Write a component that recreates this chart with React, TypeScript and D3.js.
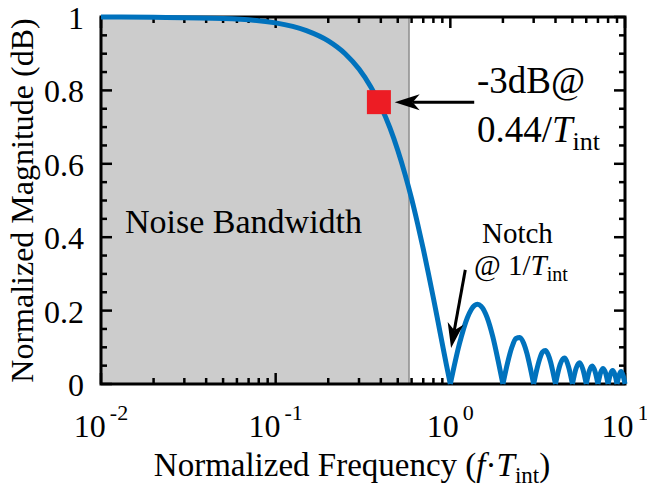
import React, { useEffect, useRef } from 'react';
import * as d3 from 'd3';

// normalized frequency (f*T_int) and normalized magnitude
const freq = [
  0.01, 0.02, 0.05, 0.1, 0.15, 0.2, 0.25, 0.3, 0.35, 0.4, 0.45, 0.5, 0.55, 0.6, 0.65, 0.7, 0.75, 0.8, 0.85, 0.9, 0.95, 1,
  1.125, 1.25, 1.375, 1.43, 1.5, 1.625, 1.75, 1.875, 2,
  2.125, 2.25, 2.375, 2.5, 2.625, 2.75, 2.875, 3,
  3.125, 3.25, 3.375, 3.5, 3.625, 3.75, 3.875, 4,
  4.25, 4.5, 4.75, 5,
  5.25, 5.5, 5.75, 6,
  6.25, 6.5, 6.75, 7,
  7.25, 7.5, 7.75, 8,
  8.25, 8.5, 8.75, 9,
  9.25, 9.5, 9.75, 10,
];
const magnitude = [
  1.0, 0.999, 0.996, 0.984, 0.963, 0.935, 0.9, 0.858, 0.81, 0.757, 0.699, 0.637, 0.572, 0.505, 0.436, 0.368, 0.3, 0.234, 0.17, 0.109, 0.052, 0,
  0.108, 0.18, 0.214, 0.217, 0.212, 0.181, 0.129, 0.065, 0,
  0.057, 0.1, 0.124, 0.127, 0.112, 0.082, 0.042, 0,
  0.039, 0.069, 0.087, 0.091, 0.081, 0.06, 0.031, 0,
  0.053, 0.071, 0.047, 0,
  0.043, 0.058, 0.039, 0,
  0.036, 0.049, 0.033, 0,
  0.031, 0.042, 0.029, 0,
  0.027, 0.037, 0.026, 0,
  0.024, 0.034, 0.023, 0,
];

const noiseBandEdge = 0.58;
const marker = [0.39, 0.768];

const xMajorTicks = [0.01, 0.1, 1, 10];
const xTickExponents = ['-2', '-1', '0', '1'];
const yMajorTicks = [0, 0.2, 0.4, 0.6, 0.8, 1];
const yTickLabels = ['0', '0.2', '0.4', '0.6', '0.8', '1'];

const FONT = '"Liberation Serif", "Times New Roman", serif';

const App = () => {
  const ref = useRef<SVGSVGElement>(null);

  useEffect(() => {
    const svg = d3.select(ref.current);
    svg.selectAll('*').remove();

    const x = d3.scaleLog().domain([0.01, 10]).range([101, 625]);
    const y = d3.scaleLinear().domain([0, 1]).range([384, 17]);
    const [left, right] = x.range();
    const [bottom, top] = y.range();

    // shaded noise bandwidth
    svg.append('rect')
      .attr('x', left).attr('y', top)
      .attr('width', x(noiseBandEdge) - left)
      .attr('height', bottom - top)
      .attr('fill', '#cccccc');
    svg.append('line')
      .attr('x1', x(noiseBandEdge)).attr('x2', x(noiseBandEdge))
      .attr('y1', top).attr('y2', bottom)
      .attr('stroke', '#8c8c8c').attr('stroke-width', 1.5);

    // ticks (inside, all four sides)
    const ticks = svg.append('g').attr('stroke', '#000').attr('stroke-width', 2.5);
    x.ticks().forEach(t => {
      const lg = Math.log10(t);
      const len = Math.abs(lg - Math.round(lg)) < 1e-9 ? 11 : 6;
      ticks.append('line').attr('x1', x(t)).attr('x2', x(t)).attr('y1', bottom).attr('y2', bottom - len);
      ticks.append('line').attr('x1', x(t)).attr('x2', x(t)).attr('y1', top).attr('y2', top + len);
    });
    d3.range(0, 21).forEach(i => {
      const v = i * 0.05;
      const len = i % 4 === 0 ? 11 : 6;
      ticks.append('line').attr('x1', left).attr('x2', left + len).attr('y1', y(v)).attr('y2', y(v));
      ticks.append('line').attr('x1', right).attr('x2', right - len).attr('y1', y(v)).attr('y2', y(v));
    });

    svg.append('rect')
      .attr('x', left).attr('y', top)
      .attr('width', right - left).attr('height', bottom - top)
      .attr('fill', 'none').attr('stroke', '#000').attr('stroke-width', 3);

    // tick labels
    yMajorTicks.forEach((v, i) => {
      svg.append('text')
        .attr('x', left - 17).attr('y', y(v) + 12)
        .attr('text-anchor', 'end')
        .attr('font-family', FONT).attr('font-size', 32)
        .text(yTickLabels[i]);
    });
    xMajorTicks.forEach((v, i) => {
      const t = svg.append('text')
        .attr('x', x(v)).attr('y', 437)
        .attr('text-anchor', 'middle')
        .attr('font-family', FONT).attr('font-size', 32);
      t.append('tspan').text('10');
      t.append('tspan').attr('dx', 4).attr('dy', -17).attr('font-size', 22).text(xTickExponents[i]);
    });

    // axis labels
    const xl = svg.append('text')
      .attr('x', 352).attr('y', 476)
      .attr('text-anchor', 'middle')
      .attr('font-family', FONT).attr('font-size', 33);
    xl.append('tspan').text('Normalized Frequency (');
    xl.append('tspan').attr('font-style', 'italic').text('f');
    xl.append('tspan').text('\u00b7');
    xl.append('tspan').attr('font-style', 'italic').text('T');
    xl.append('tspan').attr('font-size', 23).attr('dy', 7).text('int');
    xl.append('tspan').attr('dy', -7).text(')');

    svg.append('text')
      .attr('transform', `translate(33,${(top + bottom) / 2}) rotate(-90)`)
      .attr('text-anchor', 'middle')
      .attr('font-family', FONT).attr('font-size', 32)
      .text('Normalized Magnitude (dB)');

    svg.append('text')
      .attr('x', 125).attr('y', 233)
      .attr('font-family', FONT).attr('font-size', 34)
      .text('Noise Bandwidth');

    // curve, one path per lobe so the notches stay sharp
    const pts: [number, number][] = freq.map((f, i) => [f, magnitude[i]]);
    const lobes: [number, number][][] = [];
    let cur: [number, number][] = [];
    pts.forEach(p => {
      cur.push(p);
      if (p[1] === 0 && cur.length > 1) {
        lobes.push(cur);
        cur = [p];
      }
    });
    const line = d3.line<[number, number]>()
      .x(d => x(d[0]))
      .y(d => y(d[1]))
      .curve(d3.curveMonotoneX);
    svg.append('g').selectAll('path')
      .data(lobes)
      .enter().append('path')
      .attr('d', d => line(d))
      .attr('fill', 'none')
      .attr('stroke', '#0072BD')
      .attr('stroke-width', 5)
      .attr('stroke-linejoin', 'round');

    // -3dB marker
    svg.append('rect')
      .attr('x', x(marker[0]) - 12).attr('y', y(marker[1]) - 12)
      .attr('width', 24).attr('height', 24)
      .attr('fill', '#ed1c24');

    const arrow = (from: [number, number], to: [number, number]) => {
      const x1 = x(from[0]), y1 = y(from[1]);
      const x2 = x(to[0]), y2 = y(to[1]);
      const a = Math.atan2(y2 - y1, x2 - x1);
      const L = 25, W = 8, N = 7;
      const ux = Math.cos(a), uy = Math.sin(a);
      const bx = x2 - ux * L, by = y2 - uy * L;
      const nx = x2 - ux * (L - N), ny = y2 - uy * (L - N);
      svg.append('line')
        .attr('x1', x1).attr('y1', y1).attr('x2', nx).attr('y2', ny)
        .attr('stroke', '#000').attr('stroke-width', 3);
      svg.append('path')
        .attr('d', `M${x2},${y2}L${bx - uy * W},${by + ux * W}L${nx},${ny}L${bx + uy * W},${by - ux * W}Z`)
        .attr('fill', '#000');
    };

    arrow([1.37, 0.768], [0.48, 0.768]);
    arrow([1.218, 0.311], [1.01, 0.098]);

    // annotations
    svg.append('text')
      .attr('x', 477).attr('y', 93)
      .attr('font-family', FONT).attr('font-size', 37)
      .text('-3dB@');
    const t2 = svg.append('text')
      .attr('x', 477).attr('y', 142)
      .attr('font-family', FONT).attr('font-size', 37);
    t2.append('tspan').text('0.44/');
    t2.append('tspan').attr('font-style', 'italic').text('T');
    t2.append('tspan').attr('font-size', 26).attr('dy', 8).text('int');

    svg.append('text')
      .attr('x', 482).attr('y', 243)
      .attr('font-family', FONT).attr('font-size', 29)
      .text('Notch');
    const t3 = svg.append('text')
      .attr('x', 474).attr('y', 275)
      .attr('font-family', FONT).attr('font-size', 29);
    t3.append('tspan').text('@ 1/');
    t3.append('tspan').attr('font-style', 'italic').text('T');
    t3.append('tspan').attr('font-size', 20).attr('dy', 6).text('int');
  }, []);

  return (
    <svg
      ref={ref}
      width={647}
      height={491}
      style={{ position: 'absolute', left: 0, top: 0, background: '#fff', display: 'block' }}
    ></svg>
  );
};

export default App;
